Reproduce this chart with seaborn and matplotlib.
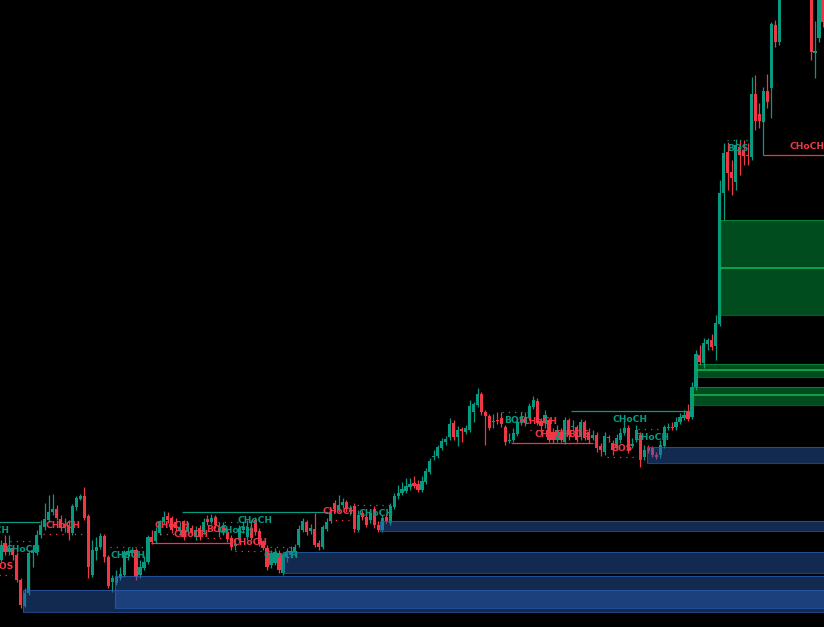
import numpy as np
import pandas as pd
import matplotlib
matplotlib.use('Agg')
import matplotlib.pyplot as plt
from matplotlib.patches import Rectangle
import seaborn as sns

# --- price data (one candle per bar) ---
open_ = [67, 84, 75, 79, 72, 47, 21, 34, 74, 74,
         92, 100, 107, 115, 118, 108, 99, 102, 94, 120,
         128, 131, 111, 52, 76, 80, 91, 70, 45, 44,
         49, 52, 72, 74, 77, 52, 59, 65, 90, 86,
         94, 105, 111, 109, 105, 96, 105, 95, 99, 90,
         99, 95, 108, 105, 110, 95, 95, 95, 89, 81,
         87, 97, 90, 99, 107, 96, 85, 79, 62, 64,
         74, 54, 70, 72, 74, 82, 97, 105, 96, 98,
         84, 80, 98, 106, 124, 117, 122, 125, 115, 121,
         97, 114, 110, 107, 118, 102, 97, 110, 104, 120,
         131, 134, 136, 140, 144, 143, 137, 145, 155, 170,
         171, 179, 185, 190, 204, 190, 198, 195, 197, 215,
         222, 233, 215, 211, 205, 207, 209, 200, 186, 187,
         193, 210, 204, 210, 220, 226, 206, 204, 207, 195,
         187, 195, 185, 207, 200, 200, 190, 205, 195, 189,
         192, 181, 175, 190, 184, 180, 187, 194, 199, 181,
         187, 192, 170, 179, 179, 172, 172, 181, 199, 200,
         200, 205, 209, 215, 210, 240, 272, 264, 283, 287,
         281, 303, 434, 475, 455, 445, 480, 477, 472, 470,
         533, 513, 505, 536, 539, 602, 585, 642, 667, 647,
         687, 702, 677, 657, 672, 574, 589, 650]
close = [82, 75, 79, 72, 47, 22, 34, 74, 77, 92,
         102, 108, 115, 118, 109, 99, 103, 94, 121, 129,
         131, 109, 60, 77, 80, 91, 70, 41, 49, 50,
         53, 75, 76, 77, 50, 60, 65, 90, 85, 96,
         105, 110, 107, 97, 99, 100, 90, 100, 95, 97,
         90, 105, 105, 109, 102, 99, 100, 88, 80, 83,
         99, 100, 100, 89, 95, 83, 79, 60, 74, 75,
         57, 72, 75, 76, 80, 98, 106, 95, 99, 82,
         80, 100, 105, 115, 118, 122, 125, 118, 119, 98,
         112, 110, 102, 114, 102, 97, 109, 106, 121, 131,
         134, 138, 141, 143, 141, 137, 146, 156, 166, 171,
         180, 186, 188, 203, 190, 197, 196, 199, 221, 223,
         233, 215, 211, 199, 206, 206, 203, 185, 187, 194,
         205, 205, 210, 221, 227, 204, 201, 212, 187, 187,
         197, 187, 207, 192, 201, 187, 205, 189, 187, 192,
         179, 177, 191, 189, 177, 189, 194, 199, 177, 183,
         197, 167, 177, 176, 172, 170, 182, 200, 200, 199,
         205, 210, 212, 208, 240, 273, 265, 284, 287, 280,
         304, 434, 474, 454, 449, 482, 472, 471, 471, 533,
         506, 506, 536, 525, 603, 585, 645, 667, 647, 687,
         702, 677, 657, 672, 575, 576, 650, 605]
high = [87, 92, 92, 82, 75, 49, 39, 77, 82, 97,
        107, 124, 132, 133, 122, 112, 109, 107, 123, 131,
        133, 140, 113, 87, 90, 94, 93, 72, 52, 57,
        60, 77, 80, 80, 79, 67, 71, 92, 97, 100,
        107, 116, 115, 111, 109, 105, 107, 105, 102, 101,
        102, 109, 112, 113, 112, 105, 105, 99, 92, 89,
        102, 105, 107, 107, 110, 99, 87, 82, 77, 79,
        77, 75, 79, 81, 83, 102, 109, 107, 103, 114,
        87, 102, 109, 119, 127, 132, 129, 127, 122, 124,
        117, 117, 113, 117, 121, 106, 112, 113, 124, 134,
        142, 145, 149, 149, 151, 147, 151, 159, 169, 177,
        182, 189, 191, 209, 207, 201, 200, 202, 227, 225,
        239, 235, 217, 213, 213, 215, 215, 202, 194, 199,
        209, 215, 215, 224, 231, 229, 209, 217, 209, 199,
        202, 199, 210, 209, 207, 202, 208, 207, 199, 197,
        195, 184, 195, 192, 187, 193, 199, 207, 202, 189,
        202, 195, 182, 182, 181, 175, 187, 202, 204, 205,
        210, 214, 217, 223, 245, 277, 282, 289, 289, 293,
        312, 447, 484, 485, 467, 488, 487, 487, 484, 550,
        552, 524, 540, 553, 605, 607, 652, 677, 682, 697,
        712, 712, 687, 682, 680, 606, 660, 660]
low = [65, 72, 72, 67, 45, 19, 20, 32, 60, 72,
       89, 97, 105, 112, 107, 96, 95, 87, 92, 117,
       127, 107, 49, 50, 67, 78, 65, 39, 35, 42,
       47, 50, 67, 71, 47, 49, 57, 63, 83, 84,
       92, 103, 104, 94, 96, 92, 87, 92, 92, 87,
       87, 93, 102, 103, 99, 90, 92, 85, 77, 77,
       84, 94, 87, 87, 92, 81, 77, 57, 59, 62,
       54, 52, 65, 69, 71, 80, 95, 92, 93, 80,
       77, 78, 96, 104, 115, 115, 119, 115, 112, 95,
       95, 107, 100, 104, 99, 95, 95, 104, 102, 118,
       128, 132, 134, 137, 139, 135, 135, 143, 153, 167,
       169, 177, 182, 187, 187, 181, 185, 193, 195, 205,
       220, 212, 182, 197, 199, 203, 200, 182, 184, 185,
       191, 202, 201, 207, 218, 202, 192, 199, 185, 184,
       185, 185, 183, 187, 197, 185, 187, 187, 184, 187,
       175, 171, 172, 185, 172, 177, 184, 192, 174, 179,
       185, 160, 167, 174, 170, 168, 169, 179, 197, 197,
       197, 203, 207, 206, 208, 237, 262, 259, 277, 277,
       267, 301, 407, 437, 432, 437, 452, 462, 462, 467,
       497, 499, 472, 519, 509, 580, 582, 637, 637, 639,
       677, 672, 647, 635, 567, 549, 585, 600]

# --- order blocks (bar where the zone starts, top, bottom) ---
ob_start = [5.5, 28.7, 71.0, 95.4, 162.7]
ob_top = [37, 51, 75, 106, 180]
ob_bottom = [15, 19, 54, 96, 164]

# --- fair value gaps (bar where the gap starts, top, bottom, middle) ---
fvg_start = [180.8, 174.8, 173.8]
fvg_top = [407, 263, 240]
fvg_bottom = [312, 250, 222]
fvg_mid = [359, 257, 232]

# --- structure breaks ---
brk_from = [-14.4, 2.3, -1.8, 10.6, 27.5, 40.0, 37.8, 51.9, 54.6, 45.7,
            59.0, 67.7, 82.6, 89.6, 126.2, 133.2, 128.4, 141.5, 143.5, 152.6,
            160.4, 182.8, 191.9]
brk_to = [9.8, 8.6, 2.8, 20.6, 36.3, 46.3, 57.7, 56.9, 63.8, 82.3,
          66.5, 73.5, 88.3, 99.2, 132.7, 138.3, 149.1, 149.7, 173.5, 160.2,
          167.7, 188.1, 214.1]
brk_level = [105, 86, 52, 93, 80, 93, 84, 89, 105, 115,
             76, 80, 107, 122, 215, 197, 184, 184, 216, 170,
             198, 487, 472]
brk_label = ['CHoCH', 'CHoCH', 'BOS', 'CHoCH', 'CHoCH', 'CHoCH', 'CHoCH', 'BOS', 'CHoCH', 'CHoCH',
             'CHoCH', 'CHoCH', 'CHoCH', 'CHoCH', 'BOS', 'CHoCH', 'CHoCH', 'BOS', 'CHoCH', 'BOS',
             'CHoCH', 'BOS', 'CHoCH']
brk_bull = [True, True, False, False, True, False, False, False, True, True,
            False, True, False, True, True, False, False, False, True, False,
            True, True, False]
brk_major = [True, False, False, False, False, False, True, False, False, True,
             False, False, False, False, False, False, True, False, True, False,
             False, False, True]

UP = '#089981'
DOWN = '#f23645'
OB_COLOR = '#2a5db2'
FVG_COLOR = '#00ab47'

sns.set_theme(style='dark', rc={'axes.facecolor': 'black', 'figure.facecolor': 'black'})

df = pd.DataFrame({'open': open_, 'close': close, 'high': high, 'low': low})
df['bar'] = np.arange(len(df))
df['color'] = np.where(df['close'] >= df['open'], UP, DOWN)

fig = plt.figure(figsize=(8.24, 6.27), dpi=100)
ax = fig.add_axes([0, 0, 1, 1])
ax.set_facecolor('black')

# candles
ax.vlines(df['bar'], df['low'], df['high'], colors=df['color'], lw=0.9, zorder=2)
ax.bar(df['bar'], (df['close'] - df['open']).abs(),
       bottom=df[['open', 'close']].min(axis=1),
       width=0.8, color=df['color'], linewidth=0, zorder=3)

right_end = len(df) + 5

# order blocks drawn over the candles (semi transparent)
for s, t, b in zip(ob_start, ob_top, ob_bottom):
    ax.add_patch(Rectangle((s, b), right_end - s, t - b,
                           facecolor=OB_COLOR, alpha=0.45, edgecolor='none', zorder=4))
    ax.add_patch(Rectangle((s, b), right_end - s, t - b,
                           facecolor='none', edgecolor=OB_COLOR, alpha=0.7, lw=0.8, zorder=4))

for s, t, b, m in zip(fvg_start, fvg_top, fvg_bottom, fvg_mid):
    ax.add_patch(Rectangle((s, b), right_end - s, t - b,
                           facecolor=FVG_COLOR, alpha=0.45, edgecolor='none', zorder=4))
    ax.add_patch(Rectangle((s, b), right_end - s, t - b,
                           facecolor='none', edgecolor=FVG_COLOR, alpha=0.55, lw=0.8, zorder=4))
    ax.hlines(m, s, right_end, color='#12b04e', lw=1.2, zorder=4)

# structure lines + labels
for x0, x1, lvl, txt, bull, major in zip(brk_from, brk_to, brk_level, brk_label, brk_bull, brk_major):
    col = UP if bull else DOWN
    ls = '-' if major else (0, (1, 4))
    ax.hlines(lvl, x0, x1, color=col, lw=0.9, linestyles=ls, zorder=5)
    ax.annotate(txt, ((x0 + x1) / 2, lvl), xytext=(0, -6.2 if bull else 6.2),
                textcoords='offset points', ha='center', va='center',
                fontsize=6.6, fontweight='bold', color=col,
                annotation_clip=False, zorder=6)

ax.set_xlim(-0.25, len(df) - 1 + 0.25)
ax.set_ylim(0, 627)
ax.axis('off')

fig.savefig('out.png', dpi=100, facecolor='black')
plt.close(fig)
